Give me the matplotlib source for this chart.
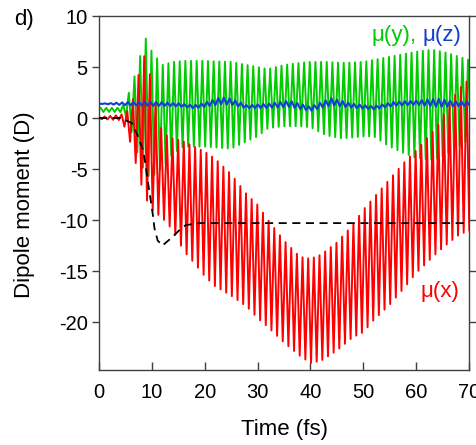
import numpy as np
import matplotlib
matplotlib.use('Agg')
import matplotlib.pyplot as plt

plt.rcParams['font.family'] = ['Liberation Sans', 'DejaVu Sans']
plt.rcParams['lines.scale_dashes'] = False

# values (fs, Debye)
PERIOD = 1.07  # period of the fast wiggle in fs

# mu(x), red: upper / lower envelope of the oscillation
mux_t = [0, 4, 5, 6, 7, 8, 9, 10, 12, 14, 16, 18, 20, 22, 25, 28, 30, 32, 35,
         38, 40, 42, 45, 48, 50, 52, 55, 58, 60, 62, 64, 66, 68, 70]
mux_hi = [0.1, 0.3, 0.5, 1.0, 3.0, 5.5, 6.5, 3.0, -1.5, -2.0, -2.3, -2.8, -3.3,
          -4.0, -5.5, -7.5, -8.5, -10.0, -12.0, -13.6, -13.8, -13.4, -12.2,
          -10.5, -9.0, -7.8, -6.0, -4.2, -3.2, -2.0, -0.8, 1.0, 2.8, 3.8]
mux_lo = [-0.1, -0.2, -1.0, -2.5, -4.5, -6.5, -8.0, -9.0, -9.8, -11.0, -13.0,
          -14.2, -15.5, -16.5, -17.4, -18.5, -19.6, -20.5, -22.0, -23.3, -24.0,
          -23.8, -22.8, -21.5, -21.0, -19.8, -18.3, -16.5, -15.2, -14.2, -13.2,
          -12.3, -11.5, -11.0]

# mu(y), green
muy_t = [0, 4, 5, 6, 7, 8, 9, 10, 12, 14, 16, 20, 25, 30, 32, 35, 38, 40, 43,
         46, 50, 52, 55, 58, 60, 63, 65, 67, 70]
muy_hi = [1.0, 1.0, 1.5, 3.0, 4.5, 6.5, 8.0, 6.5, 5.2, 5.5, 5.6, 5.6, 5.5, 5.0,
          4.8, 5.2, 5.4, 5.5, 5.5, 5.4, 5.5, 5.7, 6.0, 6.3, 6.5, 6.7, 6.5, 6.2,
          5.7]
muy_lo = [0.6, 0.6, 0.3, -1.0, -3.0, -4.5, -5.6, -5.8, -4.8, -3.5, -2.8, -2.8,
          -3.0, -1.8, -1.0, -0.8, -0.8, -0.9, -1.7, -2.0, -1.8, -1.8, -2.8,
          -3.5, -3.9, -4.1, -3.8, -3.1, -2.2]

# mu(z), blue: centre and half amplitude
muz_t = [0, 5, 10, 15, 18, 20, 23, 25, 28, 32, 36, 40, 44, 48, 52, 56, 60, 64,
         67, 70]
muz_mid = [1.4, 1.4, 1.4, 1.3, 1.1, 1.3, 1.7, 1.6, 1.1, 1.2, 1.4, 0.9, 1.6, 1.2,
           1.0, 1.4, 1.5, 1.5, 1.4, 1.4]
muz_amp = [0.0, 0.15, 0.2, 0.15, 0.15, 0.2, 0.35, 0.3, 0.15, 0.2, 0.3, 0.2,
           0.35, 0.2, 0.15, 0.2, 0.2, 0.4, 0.25, 0.2]

# black dashed curve
avg_t = [0, 4, 5, 6.2, 7.4, 8.3, 8.7, 9.3, 9.6, 10.2, 10.5, 11.1, 12, 13.6,
         15.2, 16.4, 18.9, 70]
avg_v = [0, 0, -0.2, -0.5, -1.8, -3.1, -4.2, -6.4, -7.4, -9.5, -10.8, -12.0,
         -12.5, -11.8, -11.0, -10.5, -10.3, -10.3]

xticks = [0, 10, 20, 30, 40, 50, 60, 70]
yticks = [-20, -15, -10, -5, 0, 5, 10]


def wiggle(tk, hi, lo, period, phase=0.0):
    # zig-zag between the two envelopes, one extremum every half period
    t = np.arange(phase, 70.5, period / 2)
    up = np.interp(t, tk, hi)
    dn = np.interp(t, tk, lo)
    y = np.where(np.arange(len(t)) % 2 == 0, up, dn)
    return t, y


fig = plt.figure(figsize=(4.77, 4.45), dpi=100)
ax = fig.add_axes([0.2075, 0.1685, 0.7755, 0.7955])

t, y = wiggle(muy_t, muy_hi, muy_lo, PERIOD, 0.3)
ax.plot(t, y, color='#00cc00', lw=1.4, zorder=1)

t, y = wiggle(mux_t, mux_hi, mux_lo, PERIOD, 0.0)
ax.plot(t, y, color='#ff0000', lw=1.4, zorder=2)

zmid = np.array(muz_mid)
zamp = np.array(muz_amp)
t, y = wiggle(muz_t, zmid + zamp, zmid - zamp, PERIOD, 0.1)
ax.plot(t, y, color='#1040d0', lw=1.5, zorder=3)

ax.plot(avg_t, avg_v, color='black', lw=1.3, dashes=(5.8, 4.0), zorder=4)

ax.set_xlim(0, 70)
ax.set_ylim(-24.7, 10)
ax.set_xticks(xticks)
ax.set_yticks(yticks)
ax.set_xticklabels([str(v) for v in xticks])
ax.set_yticklabels([str(v) for v in yticks])

for s in ax.spines.values():
    s.set_color('#404040')
    s.set_linewidth(1.0)

ax.tick_params(axis='y', direction='out', length=5, width=1, color='#404040',
               labelsize=14.5, pad=3, right=True)
ax.tick_params(axis='x', direction='in', length=6, width=1, color='#404040',
               labelsize=14.5, pad=9)

ax.text(51.6, 8.1, 'μ(y),', color='#00cc00', fontsize=16, va='center')
ax.text(61.2, 8.1, 'μ(z)', color='#1040d0', fontsize=16, va='center')
ax.text(64.5, -17.0, 'μ(x)', color='#ff0000', fontsize=16, va='center',
        ha='center')

fig.text(0.596, 0.034, 'Time (fs)', fontsize=16, ha='center', va='center')
fig.text(0.052, 0.54, 'Dipole moment (D)', fontsize=16, ha='center',
         va='center', rotation=90)
fig.text(0.03, 0.957, 'd)', fontsize=16, ha='left', va='center')

fig.savefig('out.png', dpi=100)
